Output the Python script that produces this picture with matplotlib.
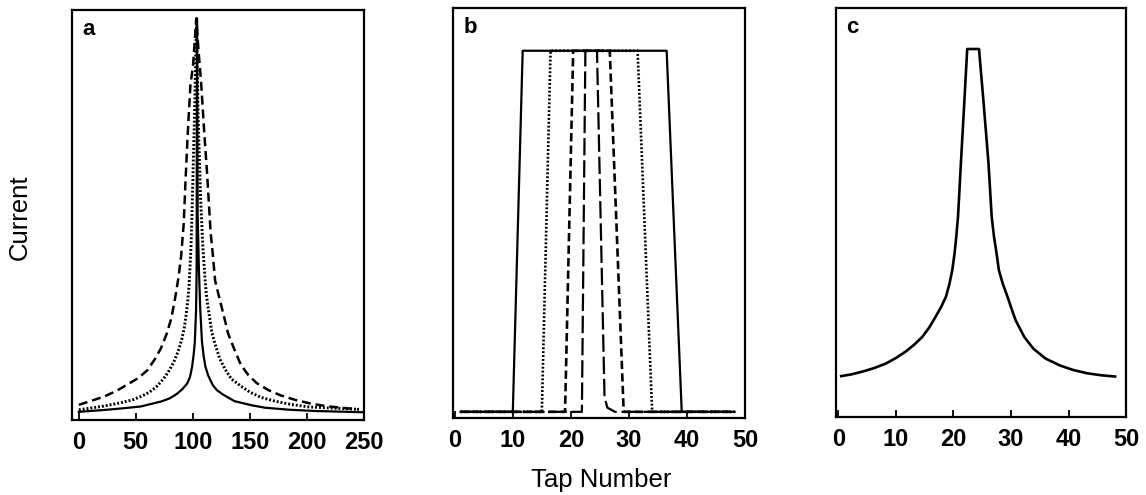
import matplotlib
matplotlib.use("Agg")
import matplotlib.pyplot as plt

plt.rcParams['font.family'] = ['Liberation Sans', 'DejaVu Sans']
plt.rcParams['lines.scale_dashes'] = False

# ---- panel a: three peaked current profiles (tap 0-250) ----
a_solid_x = [0, 20, 36.7, 54.4, 66, 72, 79, 84, 87, 91, 95, 97.5, 99.3, 100.7, 101.7, 102.8, 103.3,
             103.6, 104.2, 105.3, 106.5, 108, 109.5, 111, 113.5, 117.5, 121, 126.5, 136.5, 151.5,
             163.2, 185, 207.3, 248.5]
a_solid_y = [0.020, 0.024, 0.028, 0.033, 0.041, 0.045, 0.052, 0.060, 0.066, 0.076, 0.089, 0.105,
             0.13, 0.16, 0.19, 0.268, 0.366, 0.98, 0.50, 0.366, 0.268, 0.19, 0.155, 0.13, 0.108,
             0.085, 0.073, 0.062, 0.046, 0.036, 0.030, 0.025, 0.022, 0.019]

a_dot_x = [0, 20, 36.7, 48, 55, 62, 68, 72, 76, 79, 83, 86, 88, 90.5, 92.5, 94, 95.5, 96.7, 98.3,
           99.2, 100, 101.5, 103.2, 104.5, 106.7, 108.8, 110.5, 111.7, 113, 114.6, 116.5, 119.5,
           123.5, 128, 133.8, 142, 150, 160, 172, 186, 201.5, 222, 245.6]
a_dot_y = [0.025, 0.033, 0.042, 0.050, 0.058, 0.068, 0.081, 0.093, 0.107, 0.12, 0.14, 0.16, 0.175,
           0.20, 0.225, 0.255, 0.29, 0.33, 0.42, 0.50, 0.585, 0.75, 0.98, 0.75, 0.545, 0.42, 0.35,
           0.31, 0.28, 0.252, 0.215, 0.185, 0.15, 0.125, 0.10, 0.083, 0.068, 0.055, 0.046, 0.038,
           0.032, 0.029, 0.026]

a_dash_x = [0, 10, 22, 33, 44, 52, 60.3, 67, 72, 77, 80.8, 84, 87.5, 89.7, 92, 93.5, 95.5, 97.9,
            100, 103, 105, 107.3, 110, 112.5, 115.5, 117.6, 119.5, 123, 127.5, 131, 136.7, 142,
            148.5, 156, 166.2, 177, 189.7, 202, 216.2, 230, 245.6]
a_dash_y = [0.037, 0.046, 0.057, 0.071, 0.089, 0.102, 0.122, 0.15, 0.175, 0.21, 0.245, 0.29, 0.35,
            0.40, 0.48, 0.58, 0.70, 0.82, 0.86, 0.98, 0.90, 0.82, 0.70, 0.60, 0.46, 0.40, 0.34,
            0.30, 0.25, 0.21, 0.17, 0.135, 0.11, 0.09, 0.073, 0.06, 0.049, 0.041, 0.034, 0.030,
            0.026]

# ---- panel b: flat-topped profiles of decreasing width (tap 0-50) ----
b_solid_x = [1, 10, 11.7, 36.5, 39.1, 48.2]
b_solid_y = [0.015, 0.015, 0.896, 0.896, 0.015, 0.015]
b_dot_x = [1, 15.0, 16.5, 31.5, 34.0, 48.2]
b_dot_y = [0.015, 0.015, 0.896, 0.896, 0.015, 0.015]
b_dash_x = [1, 19.0, 20.4, 26.7, 29.1, 48.2]
b_dash_y = [0.015, 0.015, 0.896, 0.896, 0.015, 0.015]
b_long_x = [1, 21.9, 22.5, 24.5, 25.8, 26.3, 27.6, 48.2]
b_long_y = [0.015, 0.015, 0.896, 0.896, 0.05, 0.025, 0.015, 0.015]

# ---- panel c: single peaked profile (tap 0-50) ----
c_x = [0.5, 2.2, 4.2, 6.3, 8.3, 10.1, 11.7, 13.2, 14.6, 15.8, 16.9, 17.9, 18.7, 19.3, 19.8, 20.2,
       20.5, 20.8, 21.3, 21.85, 22.4, 24.45, 25.3, 26.1, 26.65, 27.05, 27.5, 27.9, 28.6, 29.4,
       30.1, 30.8, 32.3, 33.9, 36.0, 38.5, 40.8, 43.2, 45.7, 48.1]
c_y = [0.100, 0.104, 0.111, 0.120, 0.131, 0.145, 0.160, 0.177, 0.196, 0.219, 0.245, 0.270, 0.294,
       0.325, 0.359, 0.40, 0.441, 0.49, 0.62, 0.759, 0.90, 0.90, 0.759, 0.62, 0.49, 0.441, 0.40,
       0.359, 0.325, 0.294, 0.265, 0.237, 0.196, 0.167, 0.143, 0.126, 0.115, 0.107, 0.102, 0.099]

a_ticks = [0, 50, 100, 150, 200, 250]
bc_ticks = [0, 10, 20, 30, 40, 50]

DOT = (0, (1.4, 1.4))
DASH_A = (0, (6.5, 3.5))
DASH_B = (0, (6.0, 3.0))
LONG_B = (0, (12.5, 3.5))

fig = plt.figure(figsize=(11.46, 4.95), dpi=100)
ax_a = fig.add_axes([0.0628, 0.1515, 0.2548, 0.828])
ax_b = fig.add_axes([0.3953, 0.1556, 0.2548, 0.828])
ax_c = fig.add_axes([0.7295, 0.1576, 0.2531, 0.826])

lw = 1.6
ax_a.plot(a_dash_x, a_dash_y, color='black', lw=lw + 0.2, linestyle=DASH_A)
ax_a.plot(a_dot_x, a_dot_y, color='black', lw=2.1, linestyle=DOT)
ax_a.plot(a_solid_x, a_solid_y, color='black', lw=lw)

ax_b.plot(b_long_x, b_long_y, color='black', lw=lw, linestyle=LONG_B)
ax_b.plot(b_dash_x, b_dash_y, color='black', lw=lw + 0.3, linestyle=DASH_B)
ax_b.plot(b_dot_x, b_dot_y, color='black', lw=lw + 0.3, linestyle=DOT)
ax_b.plot(b_solid_x, b_solid_y, color='black', lw=lw)

ax_c.plot(c_x, c_y, color='black', lw=lw + 0.3)

ax_a.set_xlim(-6, 250)
ax_b.set_xlim(-0.3, 49.6)
ax_c.set_xlim(-0.4, 49.9)

for ax, ticks, letter in [(ax_a, a_ticks, 'a'), (ax_b, bc_ticks, 'b'), (ax_c, bc_ticks, 'c')]:
    ax.set_ylim(0, 1)
    ax.set_yticks([])
    ax.set_xticks(ticks)
    ax.tick_params(axis='x', direction='in', length=5, width=1.3, pad=8, labelsize=17)
    for lab in ax.get_xticklabels():
        lab.set_fontweight('bold')
    for sp in ax.spines.values():
        sp.set_linewidth(1.6)
    ax.text(0.035, 0.978, letter, transform=ax.transAxes, fontsize=16, fontweight='bold',
            ha='left', va='top')

fig.text(0.0175, 0.562, 'Current', rotation=90, fontsize=18.5, ha='center', va='center')
fig.text(0.525, 0.03, 'Tap Number', fontsize=18.5, ha='center', va='center')

fig.savefig('out.png', dpi=100)
